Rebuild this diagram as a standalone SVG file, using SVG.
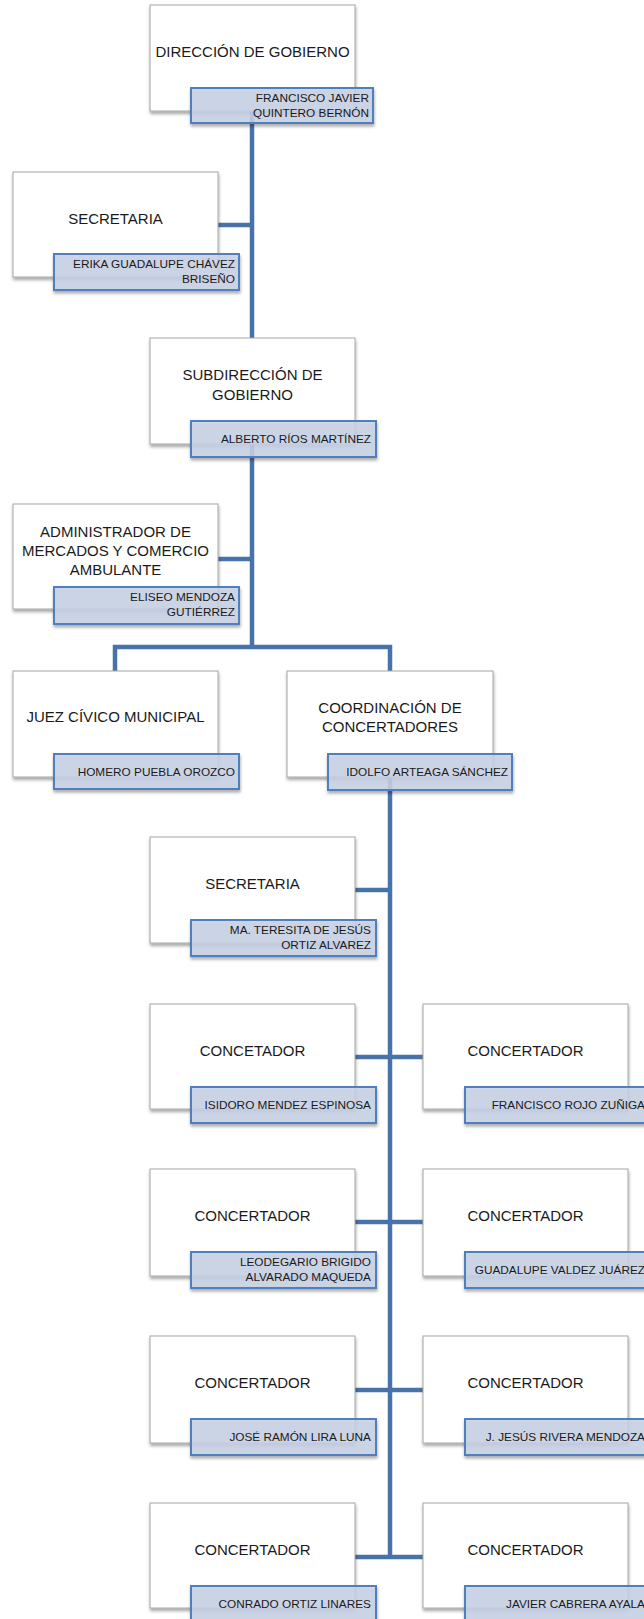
<svg xmlns="http://www.w3.org/2000/svg" width="644" height="1619" viewBox="0 0 644 1619">
  <style>
    .box { fill: #ffffff; stroke: #a6a6a6; stroke-width: 1; filter: url(#shadow); }
    .tag { fill: #c9d4e8; fill-opacity: 0.85; stroke: #4f7fbd; stroke-width: 2; filter: url(#shadow); }
    .title { font-family: "Liberation Sans", Arial, sans-serif; font-size: 15px; fill: #1a1a1a; text-anchor: middle; }
    .name { font-family: "Liberation Sans", Arial, sans-serif; font-size: 11.8px; fill: #1a1a1a; text-anchor: end; }
    .link { stroke: #4872aa; stroke-width: 4.5; fill: none; }
  </style>
  <defs>
    <filter id="shadow" x="-10%" y="-10%" width="125%" height="140%">
      <feDropShadow dx="0.5" dy="2.5" stdDeviation="1.8" flood-color="#000000" flood-opacity="0.35"/>
    </filter>
  </defs>
  <rect width="644" height="1619" fill="#ffffff"/>

  <g id="connectors">
    <path class="link" d="M252 111 V647"/>
    <path class="link" d="M218 225 H252"/>
    <path class="link" d="M218 559 H252"/>
    <path class="link" d="M115 671 V647 H390 V671"/>
    <path class="link" d="M390 777 V1557"/>
    <path class="link" d="M355 890 H390"/>
    <path class="link" d="M355 1057 H423"/>
    <path class="link" d="M355 1222 H423"/>
    <path class="link" d="M355 1390 H423"/>
    <path class="link" d="M355 1557 H423"/>
  </g>

  <g id="direccion">
    <rect class="box" x="150" y="5" width="205" height="106"/>
    <text class="title" x="252.5" y="57">DIRECCIÓN DE GOBIERNO</text>
    <rect class="tag" x="191" y="88" width="182" height="35"/>
    <text class="name" x="369" y="102">FRANCISCO JAVIER</text>
    <text class="name" x="369" y="117">QUINTERO BERNÓN</text>
  </g>

  <g id="secretaria-direccion">
    <rect class="box" x="13" y="172" width="205" height="105"/>
    <text class="title" x="115.5" y="224">SECRETARIA</text>
    <rect class="tag" x="54" y="254" width="185" height="36"/>
    <text class="name" x="235" y="268">ERIKA GUADALUPE CHÁVEZ</text>
    <text class="name" x="235" y="283">BRISEÑO</text>
  </g>

  <g id="subdireccion">
    <rect class="box" x="150" y="338" width="205" height="106"/>
    <text class="title" x="252.5" y="380">SUBDIRECCIÓN DE</text>
    <text class="title" x="252.5" y="400">GOBIERNO</text>
    <rect class="tag" x="191" y="421" width="185" height="36"/>
    <text class="name" x="371" y="443">ALBERTO RÍOS MARTÍNEZ</text>
  </g>

  <g id="administrador">
    <rect class="box" x="13" y="504" width="205" height="105"/>
    <text class="title" x="115.5" y="537">ADMINISTRADOR DE</text>
    <text class="title" x="115.5" y="556">MERCADOS Y COMERCIO</text>
    <text class="title" x="115.5" y="575">AMBULANTE</text>
    <rect class="tag" x="54" y="587" width="185" height="37"/>
    <text class="name" x="235" y="601">ELISEO MENDOZA</text>
    <text class="name" x="235" y="616">GUTIÉRREZ</text>
  </g>

  <g id="juez">
    <rect class="box" x="13" y="671" width="205" height="106"/>
    <text class="title" x="115.5" y="722">JUEZ CÍVICO MUNICIPAL</text>
    <rect class="tag" x="54" y="754" width="185" height="35"/>
    <text class="name" x="235" y="776">HOMERO PUEBLA OROZCO</text>
  </g>

  <g id="coordinacion">
    <rect class="box" x="287" y="671" width="206" height="106"/>
    <text class="title" x="390" y="713">COORDINACIÓN DE</text>
    <text class="title" x="390" y="732">CONCERTADORES</text>
    <rect class="tag" x="328" y="754" width="184" height="36"/>
    <text class="name" x="508" y="776">IDOLFO ARTEAGA SÁNCHEZ</text>
  </g>

  <g id="secretaria-coordinacion">
    <rect class="box" x="150" y="837" width="205" height="106"/>
    <text class="title" x="252.5" y="889">SECRETARIA</text>
    <rect class="tag" x="191" y="920" width="185" height="36"/>
    <text class="name" x="371" y="934">MA. TERESITA DE JESÚS</text>
    <text class="name" x="371" y="949">ORTIZ ALVAREZ</text>
  </g>

  <g id="concertador-1">
    <rect class="box" x="150" y="1004" width="205" height="105"/>
    <text class="title" x="252.5" y="1056">CONCETADOR</text>
    <rect class="tag" x="191" y="1087" width="185" height="36"/>
    <text class="name" x="371" y="1109">ISIDORO MENDEZ ESPINOSA</text>
  </g>

  <g id="concertador-2">
    <rect class="box" x="423" y="1004" width="205" height="105"/>
    <text class="title" x="525.5" y="1056">CONCERTADOR</text>
    <rect class="tag" x="465" y="1087" width="185" height="36"/>
    <text class="name" x="645" y="1109">FRANCISCO ROJO ZUÑIGA</text>
  </g>

  <g id="concertador-3">
    <rect class="box" x="150" y="1169" width="205" height="107"/>
    <text class="title" x="252.5" y="1221">CONCERTADOR</text>
    <rect class="tag" x="191" y="1252" width="185" height="36"/>
    <text class="name" x="371" y="1266">LEODEGARIO BRIGIDO</text>
    <text class="name" x="371" y="1281">ALVARADO MAQUEDA</text>
  </g>

  <g id="concertador-4">
    <rect class="box" x="423" y="1169" width="205" height="107"/>
    <text class="title" x="525.5" y="1221">CONCERTADOR</text>
    <rect class="tag" x="465" y="1252" width="185" height="36"/>
    <text class="name" x="645" y="1274">GUADALUPE VALDEZ JUÁREZ</text>
  </g>

  <g id="concertador-5">
    <rect class="box" x="150" y="1336" width="205" height="107"/>
    <text class="title" x="252.5" y="1388">CONCERTADOR</text>
    <rect class="tag" x="191" y="1419" width="185" height="36"/>
    <text class="name" x="371" y="1441">JOSÉ RAMÓN LIRA LUNA</text>
  </g>

  <g id="concertador-6">
    <rect class="box" x="423" y="1336" width="205" height="107"/>
    <text class="title" x="525.5" y="1388">CONCERTADOR</text>
    <rect class="tag" x="465" y="1419" width="185" height="36"/>
    <text class="name" x="645" y="1441">J. JESÚS RIVERA MENDOZA</text>
  </g>

  <g id="concertador-7">
    <rect class="box" x="150" y="1503" width="205" height="105"/>
    <text class="title" x="252.5" y="1555">CONCERTADOR</text>
    <rect class="tag" x="191" y="1586" width="185" height="36"/>
    <text class="name" x="371" y="1608">CONRADO ORTIZ LINARES</text>
  </g>

  <g id="concertador-8">
    <rect class="box" x="423" y="1503" width="205" height="105"/>
    <text class="title" x="525.5" y="1555">CONCERTADOR</text>
    <rect class="tag" x="465" y="1586" width="185" height="36"/>
    <text class="name" x="645" y="1608">JAVIER CABRERA AYALA</text>
  </g>
</svg>
